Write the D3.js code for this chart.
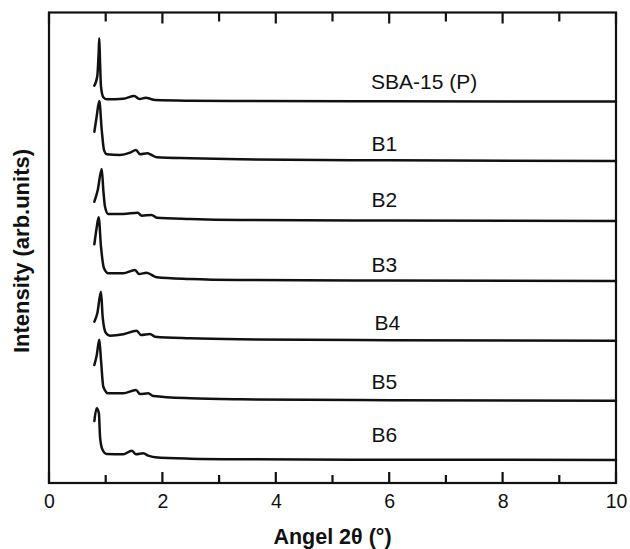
<!DOCTYPE html>
<html>
<head>
<meta charset="utf-8">
<script src="https://cdn.jsdelivr.net/npm/d3@7"></script>
<style>
  html, body { margin: 0; padding: 0; background: #fff; }
  svg { display: block; font-family: "Liberation Sans", Arial, Helvetica, sans-serif; }
</style>
</head>
<body>
<svg id="chart" width="630" height="549"></svg>
<script>
// Small-angle XRD patterns: [2θ (°), intensity above the pattern's own baseline]
const sba15 = [[0.80,15.8],[0.852,25.5],[0.875,48],[0.887,63.2],[0.90,40],[0.917,14.8],[0.958,4.2],[1.017,2.2],[1.31,2.8],[1.505,5.5],[1.593,2.5],[1.711,3.8],[1.78,2.8],[1.87,1.5],[2.49,0.8],[3.37,0.5],[6.0,0.2],[10.0,0]];
const b1    = [[0.80,29.3],[0.84,44.3],[0.887,60],[0.93,31],[0.97,11],[1.017,6.7],[1.25,6],[1.43,8.3],[1.534,11],[1.605,6.7],[1.734,7.7],[1.81,6],[1.9,3.7],[2.49,2.7],[3.37,1.7],[6.0,0.7],[10.0,0]];
const b2    = [[0.80,19.3],[0.86,31],[0.93,52],[0.958,31],[0.988,14.3],[1.046,7],[1.31,7],[1.564,8.3],[1.634,5.3],[1.81,6],[1.9,3.3],[2.49,2],[3.37,1],[6.0,0.4],[10.0,0]];
const b3    = [[0.80,36.7],[0.84,53],[0.876,63.7],[0.917,34.3],[0.97,12.7],[1.046,7.7],[1.31,7.7],[1.517,11],[1.587,7],[1.723,8.3],[1.81,6],[1.9,3.7],[2.49,2],[3.37,1],[6.0,0.4],[10.0,0]];
const b4    = [[0.80,19],[0.852,27.4],[0.917,49],[0.946,24],[1.0,8],[1.076,5],[1.31,6.4],[1.546,10],[1.623,5.7],[1.78,6.7],[1.87,4],[2.49,2.4],[3.37,1.4],[6.0,0.5],[10.0,0]];
const b5    = [[0.80,35.7],[0.84,45],[0.887,61],[0.917,40.7],[0.958,14],[1.046,7.4],[1.31,7.4],[1.534,10.7],[1.605,6.7],[1.75,7.4],[1.84,4.7],[2.49,2.4],[3.37,1.4],[6.0,0.5],[10.0,0]];
const b6    = [[0.80,39],[0.84,51.7],[0.88,46.7],[0.90,23.3],[0.94,10.7],[1.017,6],[1.31,5.7],[1.46,9.3],[1.534,5.7],[1.664,6.7],[1.75,4.3],[1.87,2.7],[2.49,1.3],[3.37,0.7],[6.0,0.3],[10.0,0]];

const seriesNames   = ["SBA-15 (P)", "B1", "B2", "B3", "B4", "B5", "B6"];
const seriesData    = [sba15, b1, b2, b3, b4, b5, b6];
// vertical stacking offset of each pattern (arb. units)
const seriesOffsets = [381.5, 322, 262, 202, 142.3, 82.3, 23];

const xTickValues = [0, 2, 4, 6, 8, 10];
const xMinorTicks = [1, 3, 5, 7, 9];
const xTitle = "Angel 2θ (°)";
const yTitle = "Intensity (arb.units)";

// ---- layout ----
const svg = d3.select("#chart");
const plot = { left: 49, right: 616, top: 12.5, bottom: 483 };

const x = d3.scaleLinear().domain([0, 10]).range([plot.left, plot.right]);
const y = d3.scaleLinear().domain([0, 470.5]).range([plot.bottom, plot.top]);

// label placement: angle where text starts, lift above the pattern offset
const labelAngles = [5.68, 5.69, 5.69, 5.69, 5.74, 5.69, 5.69];
const labelLift   = [12.5, 10.3, 14.3, 9.3, 10.7, 11.4, 18.3];

const line = d3.line()
  .x(d => x(d[0]))
  .y(d => y(d[1]))
  .curve(d3.curveMonotoneX);

// patterns
const traces = svg.append("g").attr("fill", "none").attr("stroke", "#111")
  .attr("stroke-width", 2.5).attr("stroke-linejoin", "round").attr("stroke-linecap", "round");
seriesData.forEach((pts, i) => {
  const shifted = pts.map(p => [p[0], p[1] + seriesOffsets[i]]);
  traces.append("path").attr("d", line(shifted));
});

// pattern labels
svg.append("g").attr("font-size", 21).attr("fill", "#111")
  .selectAll("text").data(seriesNames).join("text")
  .attr("x", (d, i) => x(labelAngles[i]))
  .attr("y", (d, i) => y(seriesOffsets[i] + labelLift[i]))
  .text(d => d);

// bottom axis labels from d3.axisBottom; tick marks drawn inward on both edges
const axisStroke = 2.2;
const bottomAxis = svg.append("g").attr("transform", `translate(0,${plot.bottom})`);
bottomAxis.call(d3.axisBottom(x).tickValues(xTickValues).tickSizeInner(0).tickSizeOuter(0).tickPadding(11)
  .tickFormat(d3.format("d")));
bottomAxis.select(".domain").remove();
bottomAxis.selectAll(".tick line").remove();
bottomAxis.selectAll(".tick text")
  .attr("font-size", 19.5).attr("fill", "#111")
  .attr("font-family", "\"Liberation Sans\", Arial, Helvetica, sans-serif");

const tickMarks = [
  ...xTickValues.map(v => ({ v, edge: plot.bottom, len: -11 })),
  ...xMinorTicks.map(v => ({ v, edge: plot.bottom, len: -8 })),
  ...xTickValues.map(v => ({ v, edge: plot.top, len: 11 })),
  ...xMinorTicks.map(v => ({ v, edge: plot.top, len: 9 }))
];
svg.append("g").attr("stroke", "#111").attr("stroke-width", axisStroke)
  .selectAll("line").data(tickMarks).join("line")
  .attr("x1", d => x(d.v)).attr("x2", d => x(d.v))
  .attr("y1", d => d.edge).attr("y2", d => d.edge + d.len);

// frame
svg.append("rect")
  .attr("x", plot.left).attr("y", plot.top)
  .attr("width", plot.right - plot.left).attr("height", plot.bottom - plot.top)
  .attr("fill", "none").attr("stroke", "#111").attr("stroke-width", axisStroke);

// axis titles
svg.append("text")
  .attr("x", (plot.left + plot.right) / 2).attr("y", 543.5)
  .attr("text-anchor", "middle").attr("font-size", 21.5).attr("font-weight", "bold").attr("fill", "#111")
  .text(xTitle);

svg.append("text")
  .attr("transform", `translate(29,251) rotate(-90)`)
  .attr("text-anchor", "middle").attr("font-size", 22).attr("font-weight", "bold").attr("fill", "#111")
  .text(yTitle);
</script>
</body>
</html>
